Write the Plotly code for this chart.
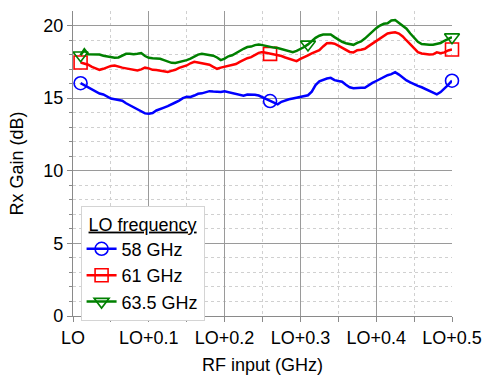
import plotly.graph_objects as go

# RF input offset from LO (GHz)
rf_offset = [
    0.010, 0.015, 0.020, 0.025, 0.030, 0.035, 0.040, 0.045, 0.050, 0.055,
    0.060, 0.065, 0.070, 0.075, 0.080, 0.085, 0.090, 0.095, 0.100, 0.105,
    0.110, 0.115, 0.120, 0.125, 0.130, 0.135, 0.140, 0.145, 0.150, 0.155,
    0.160, 0.165, 0.170, 0.175, 0.180, 0.185, 0.190, 0.195, 0.200, 0.205,
    0.210, 0.215, 0.220, 0.225, 0.230, 0.235, 0.240, 0.245, 0.250, 0.255,
    0.260, 0.265, 0.270, 0.275, 0.280, 0.285, 0.290, 0.295, 0.300, 0.305,
    0.310, 0.315, 0.320, 0.325, 0.330, 0.335, 0.340, 0.345, 0.350, 0.355,
    0.360, 0.365, 0.370, 0.375, 0.380, 0.385, 0.390, 0.395, 0.400, 0.405,
    0.410, 0.415, 0.420, 0.425, 0.430, 0.435, 0.440, 0.445, 0.450, 0.455,
    0.460, 0.465, 0.470, 0.475, 0.480, 0.485, 0.490, 0.495, 0.500,
]

# Rx gain (dB) for each LO frequency
gain_58 = [
    16.03, 15.88, 15.72, 15.62, 15.45, 15.32, 15.25, 15.10, 14.97, 14.92,
    14.86, 14.82, 14.65, 14.50, 14.38, 14.22, 14.08, 13.95, 13.92, 13.98,
    14.15, 14.27, 14.35, 14.45, 14.55, 14.70, 14.83, 15.00, 15.10, 15.08,
    15.18, 15.30, 15.33, 15.40, 15.48, 15.45, 15.42, 15.42, 15.48, 15.42,
    15.35, 15.30, 15.22, 15.17, 15.25, 15.26, 15.24, 15.18, 15.05, 14.93,
    14.80, 14.65, 14.57, 14.75, 14.85, 14.92, 14.98, 15.03, 15.08, 15.10,
    15.20, 15.45, 15.90, 16.15, 16.27, 16.35, 16.40, 16.24, 16.18, 16.13,
    15.92, 15.75, 15.68, 15.72, 15.72, 15.72, 15.90, 16.05, 16.18, 16.32,
    16.42, 16.58, 16.65, 16.79, 16.62, 16.40, 16.22, 16.08, 15.95, 15.85,
    15.75, 15.62, 15.50, 15.38, 15.26, 15.42, 15.65, 15.92, 16.20,
]
gain_61 = [
    17.45, 17.40, 17.30, 17.15, 17.05, 16.95, 17.02, 17.12, 17.22, 17.25,
    17.15, 17.10, 17.05, 17.00, 16.95, 16.90, 16.98, 17.10, 17.05, 16.95,
    16.93, 16.90, 16.85, 16.80, 16.88, 16.95, 17.08, 17.15, 17.25, 17.40,
    17.50, 17.45, 17.40, 17.35, 17.30, 17.15, 17.02, 17.10, 17.15, 17.22,
    17.28, 17.35, 17.50, 17.64, 17.75, 17.82, 18.00, 18.12, 18.17, 18.12,
    18.05, 18.00, 17.96, 17.90, 17.80, 17.70, 17.60, 17.55, 17.70, 17.85,
    17.95, 18.08, 18.18, 18.30, 18.56, 18.78, 18.80, 18.75, 18.62, 18.48,
    18.32, 18.18, 18.15, 18.30, 18.33, 18.40, 18.58, 18.76, 18.92, 19.08,
    19.28, 19.45, 19.50, 19.54, 19.45, 19.25, 18.97, 18.70, 18.45, 18.17,
    18.08, 18.03, 18.00, 18.02, 18.15, 18.10, 18.15, 18.28, 18.35,
]
gain_635 = [
    17.95, 18.35, 18.02, 18.00, 17.98, 18.00, 17.92, 17.87, 17.82, 17.78,
    17.80, 17.95, 18.05, 18.05, 18.02, 18.05, 18.10, 17.90, 17.78, 17.75,
    17.72, 17.71, 17.62, 17.52, 17.43, 17.42, 17.48, 17.55, 17.62, 17.72,
    17.88, 18.00, 18.05, 18.00, 17.95, 17.92, 17.80, 17.62, 17.72, 17.88,
    17.95, 18.10, 18.28, 18.40, 18.52, 18.55, 18.65, 18.69, 18.65, 18.58,
    18.52, 18.48, 18.45, 18.38, 18.30, 18.22, 18.17, 18.25, 18.38, 18.52,
    18.70, 18.92, 19.15, 19.30, 19.38, 19.38, 19.38, 19.20, 19.02, 18.88,
    18.78, 18.70, 18.67, 18.80, 18.90, 19.10, 19.35, 19.60, 19.82, 20.00,
    20.12, 20.15, 20.35, 20.38, 20.20, 20.00, 19.78, 19.45, 19.15, 18.88,
    18.72, 18.68, 18.67, 18.68, 18.72, 18.80, 18.95, 19.10, 19.20,
]

series_names = ["58 GHz", "61 GHz", "63.5 GHz"]
series_colors = ["#0000FF", "#FF0000", "#008000"]
series_symbols = ["circle-open", "square-open", "triangle-down-open"]
series_gains = [gain_58, gain_61, gain_635]
# indices of the points that carry a marker
marker_idx = [[0, 50, 98], [0, 50, 98], [0, 60, 98]]

# gridded x ticks, plus the end tick which has a label but no grid line
x_tickvals = [0, 0.1, 0.2, 0.3, 0.4]
x_ticktext = ["LO", "LO+0.1", "LO+0.2", "LO+0.3", "LO+0.4"]
x_end_tickval = [0.5]
x_end_ticktext = ["LO+0.5"]
x_minor_tickvals = [0.05, 0.15, 0.25, 0.35, 0.45]
y_tickvals = [0, 5, 10, 15, 20]
y_minor_tickvals = [1, 2, 3, 4, 6, 7, 8, 9, 11, 12, 13, 14, 16, 17, 18, 19]
x_range = [0, 0.5]
y_range = [0, 21]

FONT = "Liberation Sans, Arial, sans-serif"
AXIS_GREY = "#8a8a8a"

fig = go.Figure()
for name, color, sym, gains, idx in zip(series_names, series_colors,
                                         series_symbols, series_gains, marker_idx):
    fig.add_trace(go.Scatter(
        x=rf_offset, y=gains, mode="lines",
        line=dict(color=color, width=2.5),
        showlegend=False, hoverinfo="skip",
    ))
    fig.add_trace(go.Scatter(
        x=[rf_offset[i] for i in idx], y=[gains[i] for i in idx],
        mode="markers",
        marker=dict(symbol=sym, size=13, color=color, line=dict(color=color, width=1.6)),
        showlegend=False, hoverinfo="skip", cliponaxis=False,
    ))
    # legend entry combining line and marker
    fig.add_trace(go.Scatter(
        x=[None], y=[None], mode="lines+markers", name=name,
        line=dict(color=color, width=2.5),
        marker=dict(symbol=sym, size=13, color=color, line=dict(color=color, width=1.6)),
    ))

# empty trace so the overlaid end-label axis gets drawn
fig.add_trace(go.Scatter(x=[None], y=[None], xaxis="x2", yaxis="y",
                         mode="lines", showlegend=False, hoverinfo="skip"))

axis_common = dict(
    showline=True, linecolor=AXIS_GREY, linewidth=1.2,
    ticks="outside", ticklen=5, tickcolor=AXIS_GREY, tickwidth=1,
    showgrid=True, gridcolor="#9a9a9a", gridwidth=1,
    zeroline=False, automargin=False,
    tickfont=dict(family=FONT, size=18, color="#000000"),
)

fig.update_layout(
    xaxis=dict(
        range=x_range, tickvals=x_tickvals, ticktext=x_ticktext,
        title=dict(text="RF input (GHz)", font=dict(family=FONT, size=18, color="#000000"), standoff=14),
        minor=dict(tickvals=x_minor_tickvals, showgrid=True, gridcolor="#d0d0d0", griddash="dot",
                   ticks="outside", ticklen=5, tickcolor=AXIS_GREY),
        **axis_common,
    ),
    # end-of-axis label without a grid line
    xaxis2=dict(
        overlaying="x", anchor="y", side="bottom", range=x_range,
        tickvals=x_end_tickval, ticktext=x_end_ticktext,
        showline=False, showgrid=False, zeroline=False, automargin=False,
        ticks="outside", ticklen=5, tickcolor=AXIS_GREY, tickwidth=1,
        tickfont=dict(family=FONT, size=18, color="#000000"),
    ),
    yaxis=dict(
        range=y_range, tickvals=y_tickvals,
        title=dict(text="Rx Gain (dB)", font=dict(family=FONT, size=18, color="#000000"), standoff=14),
        minor=dict(tickvals=y_minor_tickvals, showgrid=True, gridcolor="#d0d0d0", griddash="dot",
                   ticks="outside", ticklen=3, tickcolor=AXIS_GREY),
        **axis_common,
    ),
    width=484, height=375,
    margin=dict(l=73, r=32, t=11, b=59),
    paper_bgcolor="#ffffff", plot_bgcolor="#ffffff",
    font=dict(family=FONT, size=18, color="#000000"),
    legend=dict(
        x=0.02, y=0.36, xanchor="left", yanchor="top",
        bgcolor="#ffffff", bordercolor="#d4d4d4", borderwidth=1,
        font=dict(family=FONT, size=18, color="#000000"),
        title=dict(text='<span style="text-decoration:underline">LO frequency</span>',
                   side="top center", font=dict(family=FONT, size=18, color="#000000")),
        tracegroupgap=0, itemwidth=30,
    ),
)

fig.write_html("out.html")
